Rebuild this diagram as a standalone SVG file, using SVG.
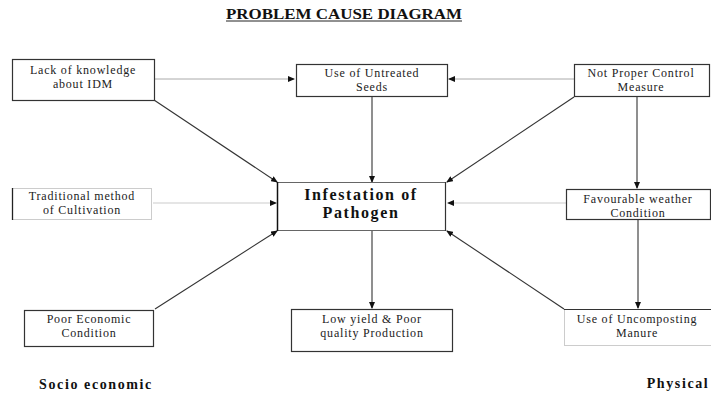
<svg xmlns="http://www.w3.org/2000/svg" width="711" height="394" viewBox="0 0 711 394">
<style>
  .t { font-family: "Liberation Serif", "Times New Roman", serif; font-size: 12px; letter-spacing: 0.8px; fill: #222; text-anchor: middle; }
  .tb { font-family: "Liberation Serif", "Times New Roman", serif; font-weight: bold; fill: #111; text-anchor: middle; }
  .box { fill: #fff; stroke: #333; stroke-width: 1.2; }
  .dark { stroke: #333; stroke-width: 1.1; fill: none; }
  .gray { stroke: #aaa; stroke-width: 1; fill: none; }
  .light { stroke: #ddd; stroke-width: 1.5; fill: none; }
</style>
<defs>
  <marker id="ah" markerWidth="7" markerHeight="6" refX="6" refY="3" orient="auto" markerUnits="userSpaceOnUse">
    <path d="M0,0 L7,3 L0,6 z" fill="#111"/>
  </marker>
</defs>
<rect width="711" height="394" fill="#fff"/>

<g id="title">
  <text x="344" y="19" style="font-family:'Liberation Serif',serif;font-weight:bold;font-size:14px;fill:#111" text-anchor="middle" textLength="236" lengthAdjust="spacingAndGlyphs">PROBLEM CAUSE DIAGRAM</text>
  <line x1="226" y1="21" x2="462" y2="21" stroke="#222" stroke-width="1"/>
</g>

<g id="connectors">
  <line class="gray" x1="155" y1="79" x2="294" y2="79" marker-end="url(#ah)"/>
  <line class="gray" x1="574" y1="79" x2="449" y2="79" marker-end="url(#ah)"/>
  <line class="dark" x1="372" y1="96" x2="372" y2="182" marker-end="url(#ah)"/>
  <line class="dark" x1="154" y1="100" x2="277" y2="182" marker-end="url(#ah)"/>
  <line class="dark" x1="574" y1="97" x2="447" y2="182" marker-end="url(#ah)"/>
  <line class="light" x1="153" y1="203" x2="276" y2="203" marker-end="url(#ah)"/>
  <line class="light" x1="566" y1="203" x2="448" y2="203" marker-end="url(#ah)"/>
  <line class="dark" x1="155" y1="309" x2="277" y2="231" marker-end="url(#ah)"/>
  <line class="dark" x1="564" y1="309" x2="447" y2="231" marker-end="url(#ah)"/>
  <line class="dark" x1="372" y1="231" x2="372" y2="308" marker-end="url(#ah)"/>
  <line class="dark" x1="637" y1="97" x2="637" y2="188" marker-end="url(#ah)"/>
  <line class="dark" x1="638" y1="220" x2="638" y2="308" marker-end="url(#ah)"/>
</g>

<g id="lack-knowledge">
  <rect class="box" x="12.5" y="59.5" width="142" height="41"/>
  <text class="t" x="83" y="74">Lack of knowledge</text>
  <text class="t" x="83" y="88">about IDM</text>
</g>

<g id="untreated-seeds">
  <rect class="box" x="296.5" y="64.5" width="151" height="32"/>
  <text class="t" x="372" y="77">Use of Untreated</text>
  <text class="t" x="372" y="91">Seeds</text>
</g>

<g id="control-measure">
  <rect class="box" x="574.5" y="64.5" width="135" height="32"/>
  <text class="t" x="641" y="77">Not Proper Control</text>
  <text class="t" x="641" y="91">Measure</text>
</g>

<g id="infestation">
  <rect x="277.5" y="182.5" width="168" height="48" fill="#fff" stroke="#666" stroke-width="1"/>
  <line x1="277.5" y1="182" x2="277.5" y2="231" stroke="#111" stroke-width="1.5"/>
  <line x1="445.5" y1="182" x2="445.5" y2="231" stroke="#333" stroke-width="1.2"/>
  <text class="tb" x="361" y="200" font-size="16" letter-spacing="1.6">Infestation of</text>
  <text class="tb" x="361" y="218" font-size="16" letter-spacing="1.6">Pathogen</text>
</g>

<g id="traditional">
  <rect x="12.5" y="188.5" width="139" height="31" fill="#fff" stroke="#ccc" stroke-width="1"/>
  <line x1="12.5" y1="188" x2="12.5" y2="220" stroke="#222" stroke-width="1.3"/>
  <text class="t" x="82" y="200">Traditional method</text>
  <text class="t" x="82" y="214">of Cultivation</text>
</g>

<g id="weather">
  <rect class="box" x="566.5" y="189.5" width="144" height="30"/>
  <text class="t" x="638" y="203">Favourable weather</text>
  <text class="t" x="638" y="217">Condition</text>
</g>

<g id="poor-economic">
  <rect class="box" x="24.5" y="310.5" width="129" height="36"/>
  <text class="t" x="89" y="323">Poor Economic</text>
  <text class="t" x="89" y="337">Condition</text>
</g>

<g id="low-yield">
  <rect class="box" x="291.5" y="309.5" width="161" height="42"/>
  <text class="t" x="372" y="323">Low yield &amp; Poor</text>
  <text class="t" x="372" y="337">quality Production</text>
</g>

<g id="manure">
  <rect x="564.5" y="309.5" width="150" height="36" fill="#fff" stroke="#ccc" stroke-width="1"/>
  <line x1="564" y1="309.5" x2="711" y2="309.5" stroke="#333" stroke-width="1.2"/>
  <text class="t" x="637" y="323">Use of Uncomposting</text>
  <text class="t" x="637" y="337">Manure</text>
</g>

<g id="labels">
  <text class="tb" x="96" y="389" font-size="14" letter-spacing="1.6">Socio economic</text>
  <text class="tb" x="678" y="388" font-size="14" letter-spacing="1.6">Physical</text>
</g>
</svg>
